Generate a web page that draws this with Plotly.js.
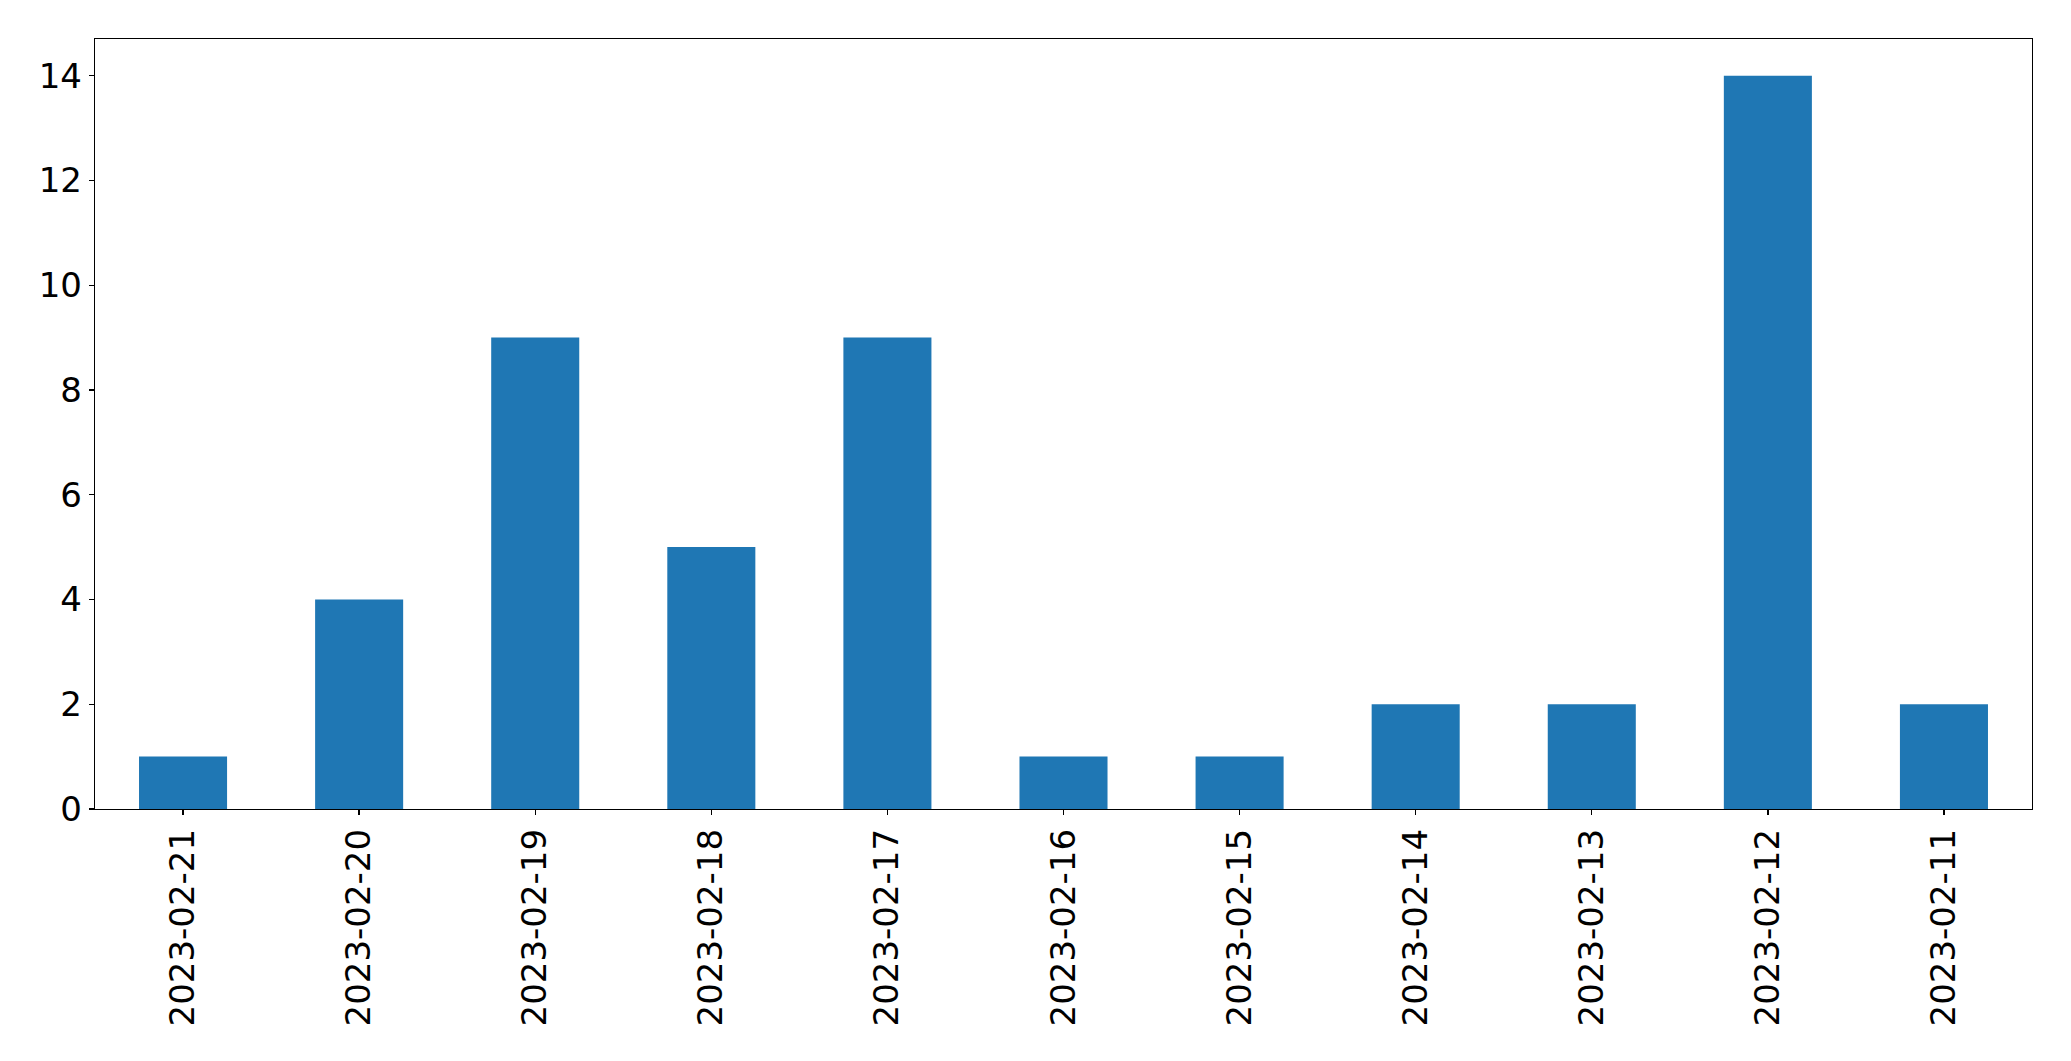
<!DOCTYPE html>
<html>
<head>
<meta charset="utf-8">
<script src="https://cdn.plot.ly/plotly-3.0.1.min.js"></script>
<style>html,body{margin:0;padding:0;background:#fff;}#chart{width:2071px;height:1061px;}</style>
</head>
<body>
<div id="chart"></div>
<script>
const categories = ["2023-02-21","2023-02-20","2023-02-19","2023-02-18","2023-02-17","2023-02-16","2023-02-15","2023-02-14","2023-02-13","2023-02-12","2023-02-11"];
const counts = [1, 4, 9, 5, 9, 1, 1, 2, 2, 14, 2];
const yTicks = [0, 2, 4, 6, 8, 10, 12, 14];

const trace = {
  type: 'bar',
  x: categories,
  y: counts,
  width: 0.5,
  marker: {color: '#1f77b4', line: {width: 0}},
  hoverinfo: 'x+y'
};

const axisFont = {family: 'DejaVu Sans, sans-serif', size: 34, color: '#000'};

const layout = {
  width: 2071, height: 1061,
  margin: {l: 95, r: 39, t: 39, b: 252, pad: 0},
  paper_bgcolor: '#fff', plot_bgcolor: '#fff',
  showlegend: false,
  bargap: 0.5,
  xaxis: {
    type: 'category',
    range: [-0.5, 10.5],
    tickangle: -90,
    tickfont: axisFont,
    ticks: 'outside', ticklen: 5, tickwidth: 1.3, tickcolor: '#000',
    showline: true, linecolor: '#000', linewidth: 1.3, mirror: true,
    showgrid: false, zeroline: false,
    fixedrange: true
  },
  yaxis: {
    range: [0, 14.7],
    tickvals: yTicks,
    ticktext: yTicks.map(String),
    tickfont: axisFont,
    ticks: 'outside', ticklen: 5, tickwidth: 1.3, tickcolor: '#000',
    showline: true, linecolor: '#000', linewidth: 1.3, mirror: true,
    showgrid: false, zeroline: false,
    fixedrange: true
  }
};

Plotly.newPlot('chart', [trace], layout, {displayModeBar: false, staticPlot: true});
</script>
</body>
</html>
